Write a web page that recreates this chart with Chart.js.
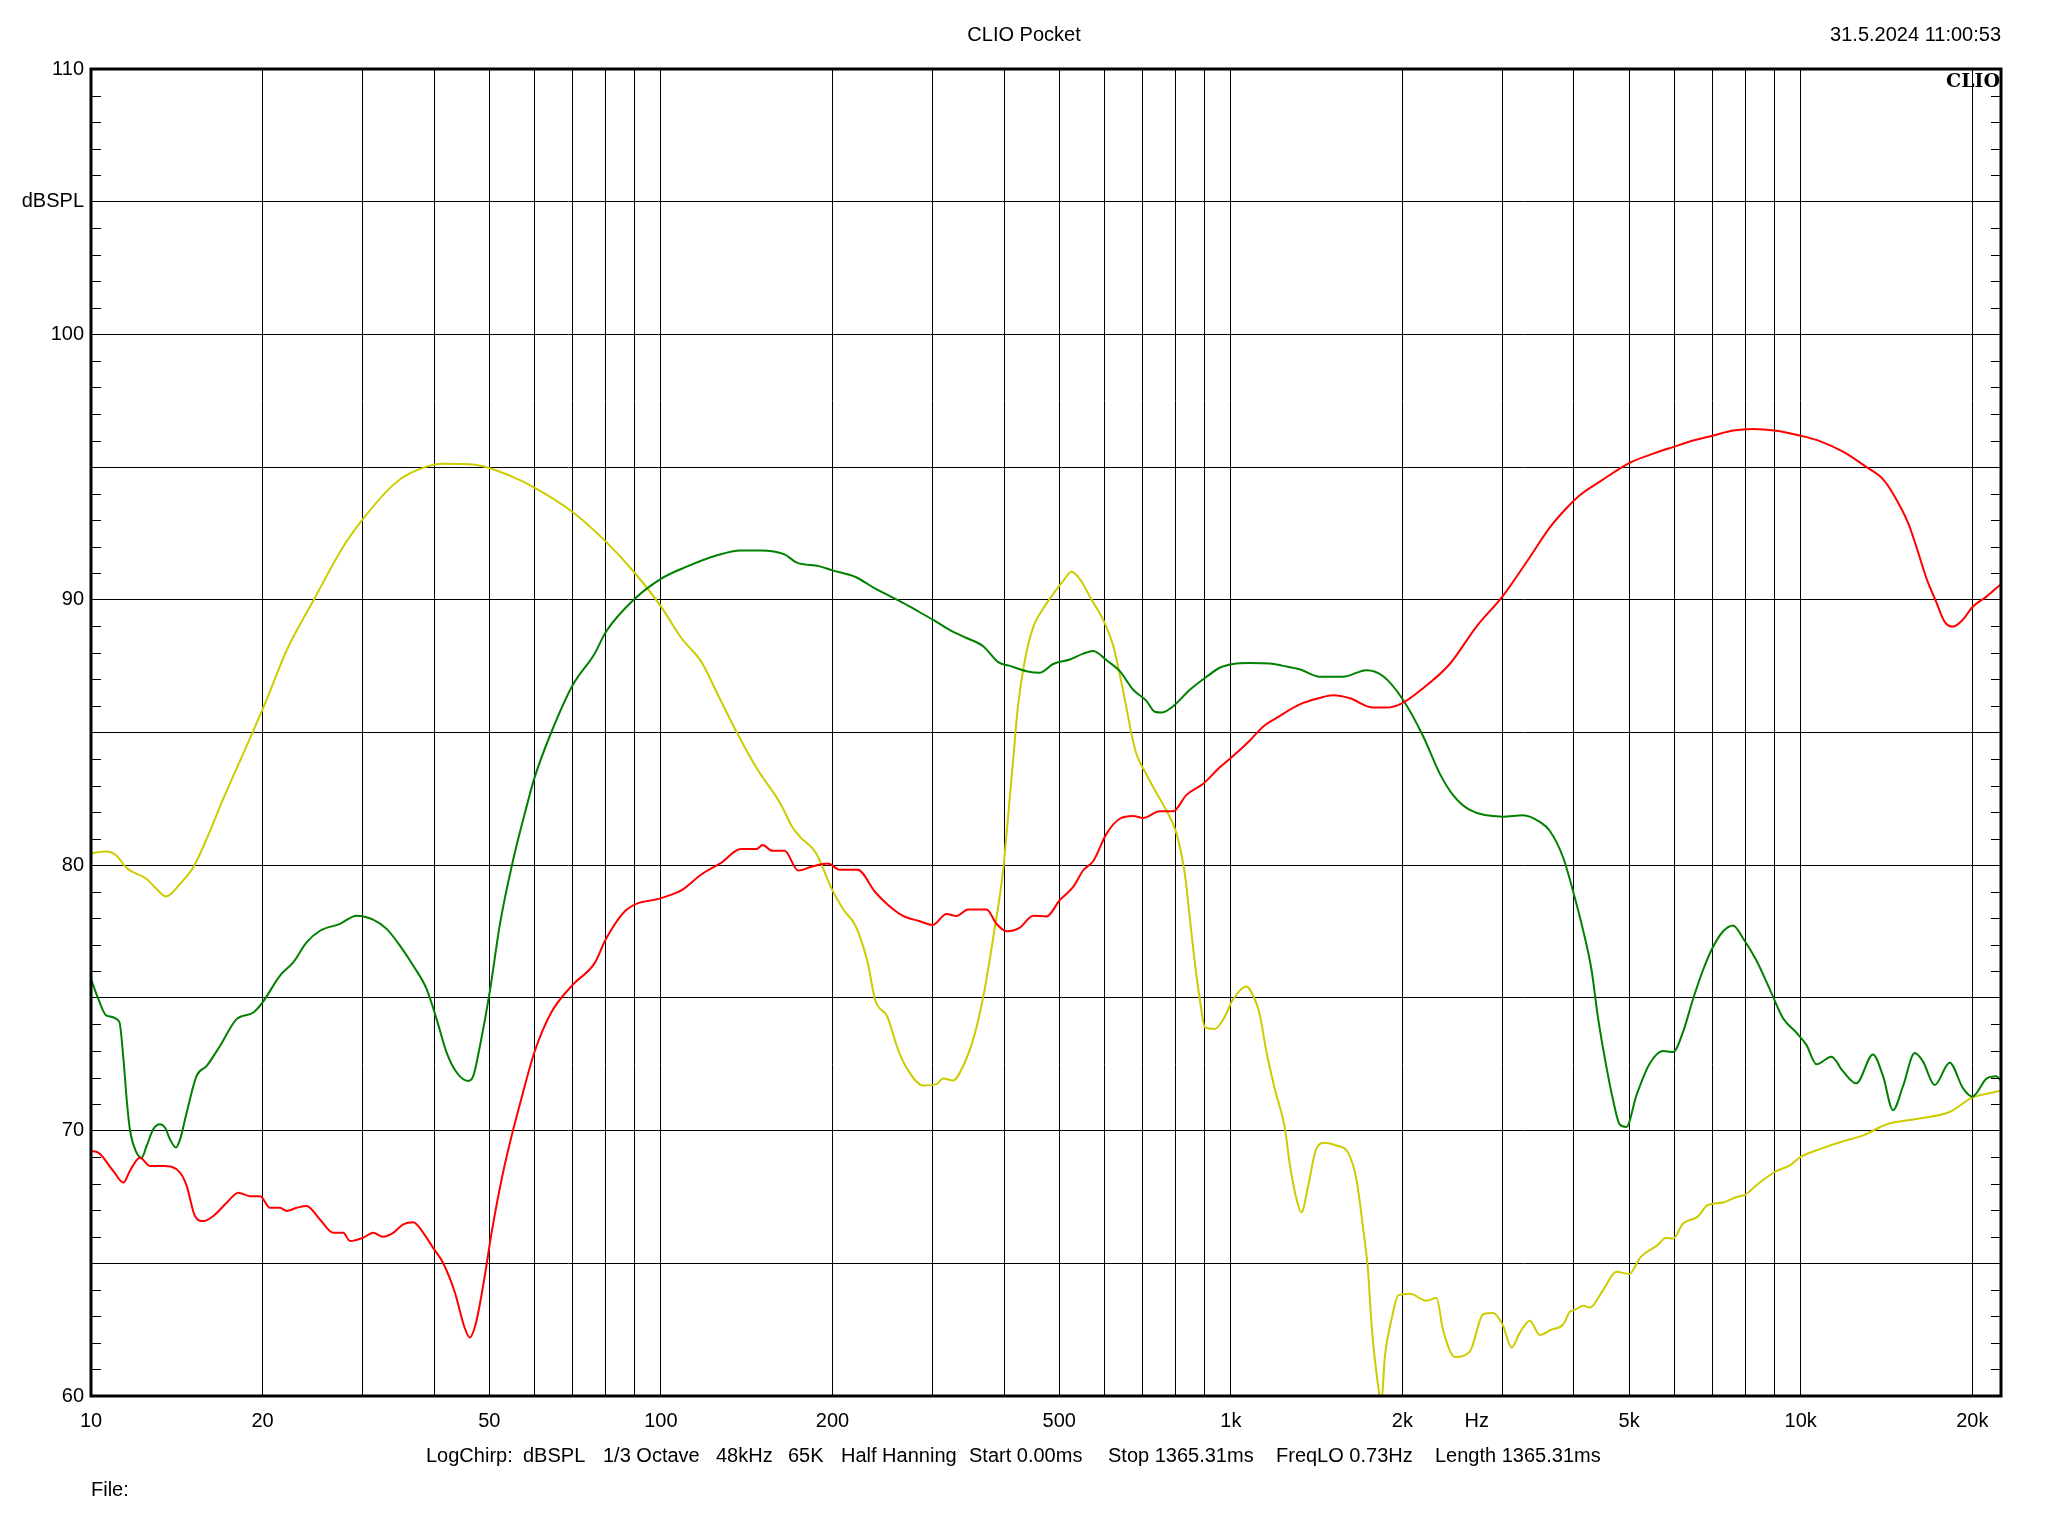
<!DOCTYPE html>
<html>
<head>
<meta charset="utf-8">
<title>CLIO Pocket</title>
<script src="https://cdn.jsdelivr.net/npm/chart.js@4.4.1/dist/chart.umd.min.js"></script>
<style>
  html, body { margin: 0; padding: 0; background: #fff; }
  #wrap { width: 2048px; height: 1536px; position: relative; }
</style>
</head>
<body>
<div id="wrap"><canvas id="chart"></canvas></div>
<script>
// Curves: frequency in Hz, level in dBSPL
const yellowFreq = [10, 10.65, 11.09, 11.55, 12.52, 13.04, 13.54, 14.33, 15.12, 15.96, 17.06, 18.85, 20.3, 22.05, 24.6, 27.7, 30, 33.9, 36.3, 41.5, 46.9, 54.3, 60, 70, 80, 90, 100, 108.6, 117.7, 125.5, 135.9, 147.2, 162.1, 170.1, 175.6, 187.1, 200, 209.3, 219.5, 230.3, 237.8, 249.5, 261.6, 273.4, 288.1, 304.5, 312.8, 325.7, 338, 354.5, 368.9, 383.9, 398.6, 406.8, 415, 423.5, 435.1, 450, 468.6, 487.9, 507.9, 525.4, 543.4, 569.5, 597, 621.5, 638.6, 656.1, 669.5, 683.2, 711.2, 740.5, 765.9, 803.1, 830.5, 847.4, 864.7, 882.3, 900.4, 937.5, 969.4, 1009, 1065, 1102, 1124, 1155, 1195, 1243, 1269, 1304, 1330, 1367, 1413, 1462, 1532, 1606, 1662, 1707, 1741, 1766, 1801, 1838, 1863, 1914, 1967, 2061, 2204, 2295, 2358, 2472, 2626, 2772, 2885, 3000, 3108, 3214, 3347, 3484, 3653, 3828, 3933, 4000, 4151, 4264, 4500, 4749, 5000, 5241, 5605, 5798, 5971, 6216, 6589, 6862, 7311, 7713, 8000, 8358, 9000, 9565, 10000, 10797, 11865, 12870, 14130, 15960, 18250, 20000, 22460];
const yellowDb = [80.45, 80.52, 80.36, 79.89, 79.48, 79.1, 78.82, 79.3, 79.92, 81.0, 82.5, 84.6, 86.2, 88.1, 90.0, 92.0, 93.04, 94.33, 94.77, 95.13, 95.1, 94.68, 94.23, 93.31, 92.2, 91.01, 89.75, 88.56, 87.67, 86.48, 85.0, 83.66, 82.32, 81.43, 81.06, 80.46, 79.05, 78.31, 77.72, 76.38, 74.9, 74.3, 72.96, 72.17, 71.7, 71.75, 71.96, 71.89, 72.37, 73.56, 75.19, 77.42, 79.81, 81.89, 83.97, 86.06, 87.72, 88.97, 89.67, 90.22, 90.71, 91.06, 90.78, 90.01, 89.25, 88.28, 87.17, 85.92, 84.94, 84.18, 83.42, 82.72, 82.17, 81.19, 79.67, 78.0, 76.33, 74.94, 73.9, 73.83, 74.18, 74.94, 75.43, 74.94, 74.37, 72.96, 71.55, 70.14, 68.73, 67.42, 66.92, 67.92, 69.33, 69.54, 69.44, 69.17, 68.13, 66.31, 64.7, 62.68, 60.87, 59.8, 61.47, 62.88, 63.79, 63.85, 63.59, 63.69, 62.48, 61.47, 61.67, 63.08, 63.13, 62.68, 61.83, 62.38, 62.84, 62.3, 62.5, 62.69, 63.17, 63.23, 63.4, 63.33, 63.99, 64.68, 64.6, 65.24, 65.68, 65.95, 65.93, 66.5, 66.75, 67.19, 67.29, 67.5, 67.59, 67.94, 68.44, 68.69, 69.01, 69.3, 69.6, 69.82, 70.23, 70.44, 70.7, 71.24, 71.5];

const greenFreq = [10, 10.3, 10.65, 11.21, 11.4, 11.55, 11.7, 12.02, 12.27, 12.52, 12.86, 13.21, 13.49, 13.76, 14.1, 14.33, 14.72, 15.32, 15.96, 16.84, 18.01, 19.27, 20, 21.46, 22.64, 23.89, 25.22, 27.34, 29.24, 31.27, 33.01, 34.84, 36.77, 38.81, 40.4, 42.07, 43.82, 45.92, 46.86, 48.15, 50.1, 52.2, 55.1, 58.3, 60, 64.2, 70, 76.5, 80, 90, 100, 110.4, 125.5, 138.1, 149.6, 164.8, 172.8, 190.1, 200, 219.5, 237.8, 261.6, 280.9, 300, 321.4, 343.9, 367.7, 390.7, 409.6, 438, 462.3, 487.9, 521.9, 550.8, 573.4, 605.3, 638.6, 674, 711.2, 735.5, 755.6, 792.1, 847.4, 906.5, 956.5, 1009, 1080, 1171, 1235, 1321, 1432, 1574, 1730, 1851, 2000, 2175, 2326, 2455, 2626, 3000, 3257, 3484, 3627, 3828, 4000, 4151, 4294, 4410, 4560, 4686, 4813, 4945, 5149, 5434, 5735, 5971, 6216, 6473, 6742, 7000, 7311, 7607, 7924, 8358, 8823, 9311, 9826, 10230, 10660, 11320, 11865, 12520, 13390, 13945, 14520, 15120, 15850, 16390, 17180, 18250, 19270, 20000, 21180, 22030, 22460];
const greenDb = [75.71, 74.96, 74.33, 74.1, 72.7, 71.18, 70.05, 69.17, 68.98, 69.42, 70.05, 70.24, 70.11, 69.67, 69.36, 69.67, 70.68, 72.06, 72.44, 73.19, 74.2, 74.45, 74.83, 75.84, 76.34, 77.09, 77.53, 77.79, 78.1, 77.95, 77.6, 76.97, 76.21, 75.33, 74.2, 72.94, 72.19, 71.87, 72.06, 73.2, 75.25, 77.8, 80.24, 82.32, 83.29, 85.0, 86.78, 87.97, 88.78, 90.04, 90.79, 91.23, 91.68, 91.86, 91.86, 91.71, 91.41, 91.26, 91.11, 90.86, 90.42, 89.97, 89.6, 89.25, 88.86, 88.56, 88.25, 87.65, 87.51, 87.31, 87.25, 87.58, 87.75, 87.97, 88.07, 87.72, 87.31, 86.61, 86.19, 85.78, 85.75, 85.99, 86.61, 87.1, 87.44, 87.58, 87.62, 87.6, 87.51, 87.38, 87.1, 87.1, 87.35, 87.12, 86.27, 84.86, 83.45, 82.64, 82.08, 81.83, 81.88, 81.63, 81.3, 80.3, 78.9, 77.55, 76.06, 74.23, 72.41, 71.14, 70.23, 70.14, 71.33, 72.53, 73.0, 72.96, 73.72, 74.96, 76.06, 76.88, 77.51, 77.73, 77.24, 76.42, 75.33, 74.23, 73.69, 73.23, 72.5, 72.78, 72.23, 71.78, 72.87, 72.05, 70.77, 71.68, 72.92, 72.6, 71.72, 72.56, 71.59, 71.28, 71.96, 72.05, 71.87];

const redFreq = [10, 10.3, 10.94, 11.4, 11.7, 12.19, 12.69, 13.39, 14.33, 14.72, 15.22, 15.74, 16.39, 17.3, 18.13, 19.01, 19.8, 20.61, 21.46, 22.04, 22.96, 23.89, 25.22, 26.62, 27.71, 28.47, 30, 31.27, 32.57, 33.9, 35.3, 36.77, 38.28, 39.84, 41.5, 43.5, 45.2, 46.2, 47.3, 48.8, 50.5, 52.7, 55, 56.9, 60, 64.2, 70, 76.5, 80, 86.9, 100, 108.6, 117.7, 127.5, 138.1, 147.2, 150.8, 157, 164.8, 174.1, 184.1, 196.3, 205.9, 221.3, 237.8, 249.5, 265.9, 283.5, 300, 317, 330, 346, 372.7, 388, 404, 426.5, 450, 474.9, 501.2, 528.9, 550.8, 573.4, 605.3, 638.6, 674, 701.8, 750.6, 792.1, 836.1, 894.3, 956.5, 1009, 1080, 1139, 1203, 1321, 1432, 1512, 1617, 1777, 1876, 2000, 2175, 2422, 2698, 3000, 3324, 3627, 3880, 4096, 4440, 5000, 5434, 6000, 6473, 7000, 7607, 8251, 9000, 10000, 10797, 11865, 13040, 13945, 14520, 15430, 15960, 16620, 17300, 17890, 18500, 19270, 20000, 21180, 22460];
const redDb = [69.23, 69.17, 68.48, 68.04, 68.48, 68.98, 68.67, 68.67, 68.42, 67.92, 66.78, 66.59, 66.78, 67.28, 67.66, 67.53, 67.53, 67.09, 67.09, 66.97, 67.09, 67.16, 66.65, 66.15, 66.15, 65.84, 65.96, 66.15, 66.0, 66.15, 66.47, 66.55, 66.15, 65.58, 65.0, 63.9, 62.6, 62.2, 62.7, 64.2, 66.2, 68.3, 70.0, 71.2, 72.96, 74.45, 75.49, 76.31, 77.2, 78.31, 78.76, 79.05, 79.65, 80.09, 80.61, 80.61, 80.76, 80.54, 80.54, 79.8, 79.95, 80.06, 79.83, 79.83, 78.98, 78.53, 78.09, 77.9, 77.75, 78.16, 78.09, 78.33, 78.33, 77.79, 77.51, 77.65, 78.1, 78.07, 78.69, 79.18, 79.81, 80.15, 81.19, 81.75, 81.85, 81.78, 82.03, 82.03, 82.65, 83.07, 83.69, 84.11, 84.7, 85.22, 85.55, 86.06, 86.3, 86.4, 86.29, 85.94, 85.94, 86.11, 86.67, 87.58, 88.99, 90.14, 91.51, 92.72, 93.45, 93.94, 94.45, 95.15, 95.46, 95.77, 96.0, 96.18, 96.38, 96.44, 96.38, 96.18, 95.98, 95.58, 95.0, 94.54, 94.0, 92.9, 91.99, 90.81, 89.9, 89.17, 88.99, 89.26, 89.72, 90.12, 90.59];

// axis ticks and labels
const xTicks = [10, 20, 30, 40, 50, 60, 70, 80, 90, 100, 200, 300, 400, 500, 600, 700, 800, 900, 1000, 2000, 3000, 4000, 5000, 6000, 7000, 8000, 9000, 10000, 20000];
const xTickLabels = { 10: '10', 20: '20', 50: '50', 100: '100', 200: '200', 500: '500', 1000: '1k', 2000: '2k', 5000: '5k', 10000: '10k', 20000: '20k' };
const yTicks = [60, 65, 70, 75, 80, 85, 90, 95, 100, 105, 110];
const yTickLabels = { 60: '60', 70: '70', 80: '80', 90: '90', 100: '100', 105: 'dBSPL', 110: '110' };

const titleText = 'CLIO Pocket';
const dateText = '31.5.2024 11:00:53';
const footerItems = ['LogChirp:', 'dBSPL', '1/3 Octave', '48kHz', '65K', 'Half Hanning', 'Start 0.00ms', 'Stop 1365.31ms', 'FreqLO 0.73Hz', 'Length 1365.31ms'];

const FONT = '"Liberation Sans", Arial, sans-serif';

function toPoints(freq, db) {
    return freq.map((f, i) => ({ x: f, y: db[i] }));
}

// frame, minor dB ticks and the loose texts of the CLIO screen
const clioFrame = {
    id: 'clioFrame',
    afterDraw(chart) {
        const { ctx, chartArea: a, scales } = chart;
        const y = scales.y;
        ctx.save();
        ctx.strokeStyle = '#000';
        ctx.lineWidth = 1;
        ctx.beginPath();
        for (let v = 61; v < 110; v++) {
            if (v % 5 === 0) continue;
            const py = Math.round(y.getPixelForValue(v)) + 0.5;
            ctx.moveTo(a.left, py);
            ctx.lineTo(a.left + 10, py);
            ctx.moveTo(a.right - 10, py);
            ctx.lineTo(a.right, py);
        }
        ctx.stroke();

        ctx.lineWidth = 3;
        ctx.strokeRect(a.left, a.top, a.right - a.left, a.bottom - a.top);

        ctx.fillStyle = '#000';
        ctx.font = '20px ' + FONT;
        ctx.textBaseline = 'middle';
        ctx.textAlign = 'center';
        ctx.fillText(titleText, chart.width / 2, 35);
        ctx.fillText('Hz', scales.x.getPixelForValue(2700), 1421);
        ctx.textAlign = 'right';
        ctx.fillText(dateText, a.right, 35);

        ctx.textAlign = 'left';
        const footerX = [426, 523, 603, 716, 788, 841, 969, 1108, 1276, 1435];
        footerItems.forEach((t, i) => ctx.fillText(t, footerX[i], 1456));
        ctx.fillText('File:', a.left, 1490);

        ctx.font = 'bold 19px "DejaVu Serif", serif';
        ctx.textAlign = 'right';
        ctx.textBaseline = 'alphabetic';
        ctx.fillText('CLIO', a.right - 1, 87);
        ctx.restore();
    }
};

const lineStyle = {
    borderWidth: 2,
    pointRadius: 0,
    cubicInterpolationMode: 'monotone',
    clip: 0,
    fill: false
};

new Chart(document.getElementById('chart'), {
    type: 'line',
    data: {
        datasets: [
            { label: 'red', data: toPoints(redFreq, redDb), borderColor: 'rgb(255, 0, 0)', ...lineStyle },
            { label: 'green', data: toPoints(greenFreq, greenDb), borderColor: 'rgb(0, 128, 0)', ...lineStyle },
            { label: 'yellow', data: toPoints(yellowFreq, yellowDb), borderColor: 'rgb(204, 204, 0)', ...lineStyle }
        ]
    },
    options: {
        responsive: true,
        maintainAspectRatio: false,
        animation: false,
        events: [],
        layout: { padding: { top: 69, right: 47, left: 0, bottom: 0 } },
        plugins: {
            legend: { display: false },
            tooltip: { enabled: false },
            title: { display: false }
        },
        scales: {
            x: {
                type: 'logarithmic',
                min: 10,
                max: 22460,
                afterBuildTicks: s => { s.ticks = xTicks.map(v => ({ value: v })); },
                afterFit: s => { s.height = 140; },
                border: { display: false },
                grid: { color: '#000', lineWidth: 1, drawTicks: false },
                ticks: {
                    autoSkip: false,
                    maxRotation: 0,
                    padding: 13,
                    color: '#000',
                    font: { family: FONT, size: 20 },
                    callback: v => xTickLabels[v] || ''
                }
            },
            y: {
                min: 60,
                max: 110,
                afterBuildTicks: s => { s.ticks = yTicks.map(v => ({ value: v })); },
                afterFit: s => { s.width = 91; },
                border: { display: false },
                grid: { color: '#000', lineWidth: 1, drawTicks: false },
                ticks: {
                    autoSkip: false,
                    padding: 7,
                    color: '#000',
                    font: { family: FONT, size: 20 },
                    callback: v => yTickLabels[v] || ''
                }
            }
        }
    },
    plugins: [clioFrame]
});
</script>
</body>
</html>
